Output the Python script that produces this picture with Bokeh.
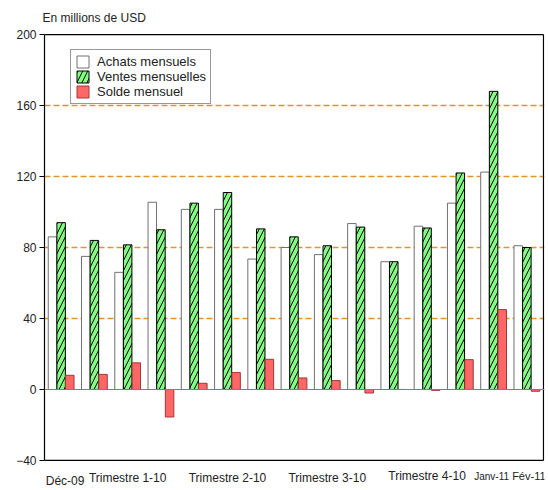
from bokeh.plotting import figure
from bokeh.models import ColumnDataSource, FixedTicker, Legend, LegendItem, Range1d, Span
from bokeh.embed import file_html
from bokeh.resources import INLINE

months = ["Déc-09", "Jan-10", "Fév-10", "Mar-10", "Avr-10", "Mai-10", "Juin-10",
          "Juil-10", "Août-10", "Sep-10", "Oct-10", "Nov-10", "Déc-10", "Janv-11", "Fév-11"]
achats = [86, 75, 66, 105.5, 101.5, 101.5, 73.5, 80, 76, 93.5, 72, 92, 105, 122.5, 81]
ventes = [94, 84, 81.5, 90, 105, 111, 90.5, 86, 81, 91.5, 72, 91, 122, 168, 80]
solde = [8, 8.5, 15, -15.5, 3.5, 9.5, 17, 6.5, 5, -2, 0, -0.5, 16.8, 45, -1]

y_ticks = [-40, 0, 40, 80, 120, 160, 200]
grid_ticks = [40, 80, 120, 160]

tick_labels = ["Déc-09", "Trimestre 1-10", "Trimestre 2-10", "Trimestre 3-10",
               "Trimestre 4-10", "Janv-11", "Fév-11"]
tick_pos = [1.12, 3, 6, 9, 12, 13.94, 15.06]
tick_label_y = [-51.3, -50.1, -50.1, -50.1, -49.0, -49.0, -49.0]
tick_label_size = ["12px", "12px", "12px", "12px", "12px", "10px", "11px"]

x = list(range(1, len(months) + 1))
src = ColumnDataSource(dict(
    x=x,
    xa=[v - 0.26 for v in x],
    xr=[v + 0.26 for v in x],
    achats=achats, ventes=ventes, solde=solde,
))
lab_src = ColumnDataSource(dict(x=tick_pos, y=tick_label_y, text=tick_labels, fs=tick_label_size))

# visible frame: groups 0.5 .. 15.5, values -40 .. 200
x_lo, x_hi = 0.5, len(months) + 0.5
y_lo, y_hi = y_ticks[0], y_ticks[-1]
frame_src = ColumnDataSource(dict(
    x0=[x_lo, x_hi, x_lo], x1=[x_hi, x_hi, x_hi],
    y0=[y_hi, y_lo, y_lo], y1=[y_hi, y_hi, y_lo],
))

p = figure(width=546, height=488, output_backend="svg", toolbar_location=None,
           x_axis_location=None,
           x_range=Range1d(x_lo, x_hi + 0.03), y_range=Range1d(-55.8, y_hi + 0.6),
           min_border_left=44, min_border_right=2, min_border_top=33, min_border_bottom=0)

p.title.text = "En millions de USD"
p.title.text_font = "Liberation Sans"
p.title.text_font_size = "12px"
p.title.text_font_style = "normal"
p.title.text_color = "#222222"
p.title.offset = -2
p.title.standoff = 17

p.outline_line_color = None
p.background_fill_color = "white"
p.border_fill_color = "white"

p.xgrid.visible = False
p.ygrid.ticker = FixedTicker(ticks=grid_ticks)
p.ygrid.grid_line_color = "#E0952A"
p.ygrid.grid_line_dash = "6 3"
p.ygrid.grid_line_width = 1.4

p.yaxis.ticker = FixedTicker(ticks=y_ticks)
p.yaxis.bounds = (y_lo, y_hi)
p.yaxis.axis_line_color = "black"
p.yaxis.axis_line_width = 1.2
p.yaxis.major_tick_line_color = "black"
p.yaxis.major_tick_out = 5
p.yaxis.major_tick_in = 0
p.yaxis.minor_tick_line_color = None
p.yaxis.major_label_text_font = "Liberation Sans"
p.yaxis.major_label_text_font_size = "12px"
p.yaxis.major_label_text_color = "#222222"
p.yaxis.major_label_standoff = 3

zero = Span(location=0, dimension="width", line_color="#A07840", line_width=1.2)
p.add_layout(zero)

w = 0.255
ra = p.vbar(x="xa", top="achats", bottom=0, width=w, source=src,
            fill_color="white", line_color="#707070", line_width=1)
rv = p.vbar(x="x", top="ventes", bottom=0, width=w, source=src,
            fill_color="#80FF80", line_color="black", line_width=1,
            hatch_pattern="/", hatch_color="black", hatch_scale=10, hatch_weight=1)
rs = p.vbar(x="xr", top="solde", bottom=0, width=w, source=src,
            fill_color="#FF6666", line_color="#A03838", line_width=1)

# frame top, right and bottom edges
p.segment(x0="x0", x1="x1", y0="y0", y1="y1", source=frame_src,
          line_color="black", line_width=1.2)

p.text(x="x", y="y", text="text", source=lab_src, text_align="center", text_baseline="middle",
       text_font_size="fs", text_color="#222222", text_font={"value": "Liberation Sans"})

legend = Legend(items=[
    LegendItem(label="Achats mensuels", renderers=[ra]),
    LegendItem(label="Ventes mensuelles", renderers=[rv]),
    LegendItem(label="Solde mensuel", renderers=[rs]),
], location=(26, 384))
legend.label_text_font = "Liberation Sans"
legend.label_text_font_size = "13px"
legend.label_text_color = "#222222"
legend.label_height = 14
legend.glyph_height = 15
legend.glyph_width = 15
legend.spacing = 0
legend.padding = 4
legend.margin = 0
legend.label_standoff = 7
legend.border_line_color = "#333333"
legend.border_line_width = 1
legend.background_fill_alpha = 1
p.add_layout(legend)

open("out.html", "w").write(file_html(p, INLINE))
